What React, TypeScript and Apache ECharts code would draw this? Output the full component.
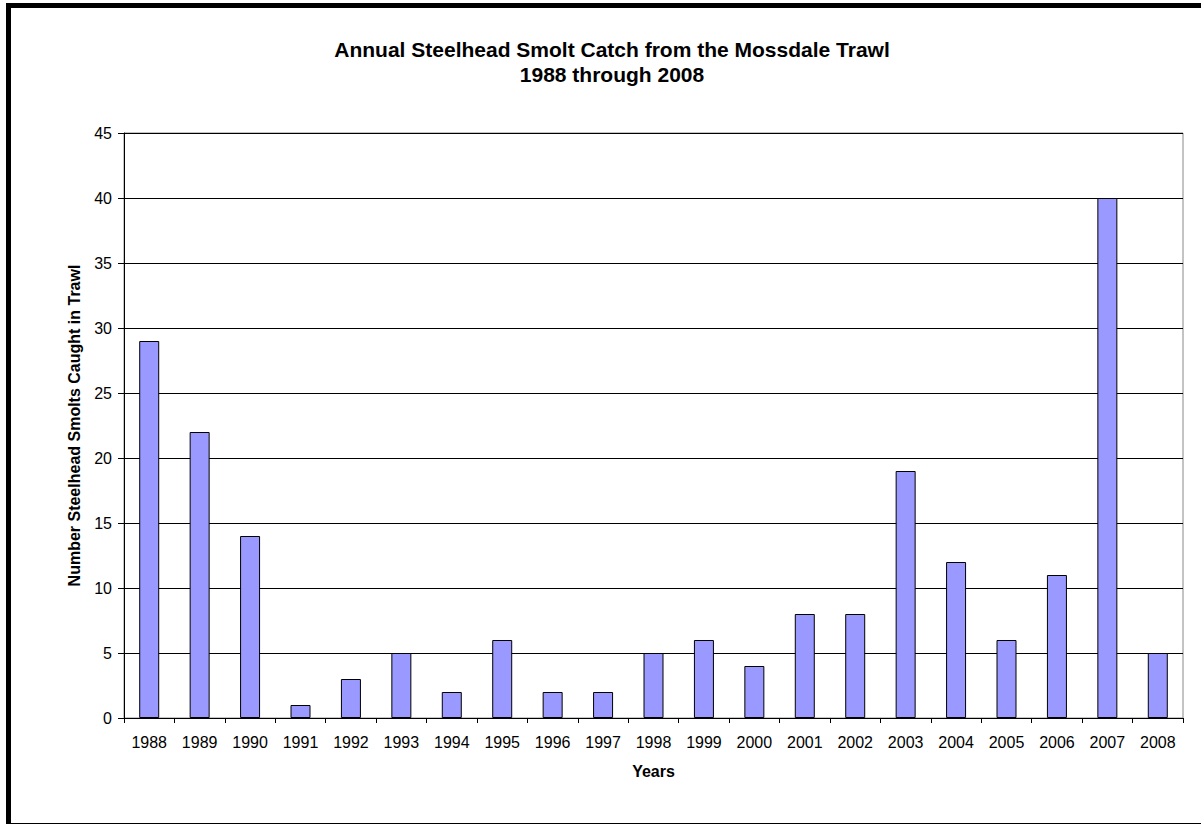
import React, { useEffect, useRef } from "react";
import * as echarts from "echarts";

const years = ["1988","1989","1990","1991","1992","1993","1994","1995","1996","1997","1998","1999","2000","2001","2002","2003","2004","2005","2006","2007","2008"];
const catches = [29, 22, 14, 1, 3, 5, 2, 6, 2, 2, 5, 6, 4, 8, 8, 19, 12, 6, 11, 40, 5];
const titleLines = ["Annual Steelhead Smolt Catch from the Mossdale Trawl", "1988 through 2008"];
const yAxisName = "Number Steelhead Smolts Caught in Trawl";
const xAxisName = "Years";

export default function App() {
  const ref = useRef<HTMLDivElement>(null);
  useEffect(() => {
    document.body.style.margin = "0";
    const chart = echarts.init(ref.current!, null, { renderer: "svg" });
    const font = "Arial, 'Liberation Sans', sans-serif";
    chart.setOption({
      animation: false,
      backgroundColor: "#fff",
      title: {
        text: titleLines.join("\n"),
        left: 607,
        textAlign: "center",
        top: 32,
        textStyle: { fontFamily: font, fontSize: 21, fontWeight: "bold", color: "#000", lineHeight: 25 },
      },
      graphic: [
        { type: "rect", shape: { x: 6, y: 3, width: 1195, height: 5 }, style: { fill: "#000" } },
        { type: "rect", shape: { x: 6, y: 3, width: 5, height: 821 }, style: { fill: "#000" } },
        { type: "rect", shape: { x: 6, y: 823, width: 1195, height: 1 }, style: { fill: "#000" } },
      ],
      grid: { left: 124, top: 133, right: 18, bottom: 107, show: true, borderColor: "#888", borderWidth: 1 },
      xAxis: {
        type: "category",
        data: years,
        boundaryGap: true,
        name: xAxisName,
        nameLocation: "middle",
        nameGap: 45,
        nameTextStyle: { fontFamily: font, fontSize: 16, fontWeight: "bold", color: "#000" },
        axisLine: { lineStyle: { color: "#000", width: 1 } },
        axisTick: { show: true, alignWithLabel: false, length: 5, lineStyle: { color: "#000" } },
        axisLabel: { fontFamily: font, fontSize: 16, color: "#000", margin: 16, interval: 0 },
      },
      yAxis: {
        type: "value",
        min: 0,
        max: 45,
        interval: 5,
        name: yAxisName,
        nameLocation: "middle",
        nameGap: 42,
        nameTextStyle: { fontFamily: font, fontSize: 16, fontWeight: "bold", color: "#000" },
        axisLine: { show: true, lineStyle: { color: "#000", width: 1 } },
        axisTick: { show: true, length: 6, lineStyle: { color: "#000" } },
        axisLabel: { fontFamily: font, fontSize: 16, color: "#000", margin: 12 },
        splitLine: { show: true, lineStyle: { color: "#000", width: 1 } },
      },
      series: [
        {
          type: "bar",
          data: catches,
          barWidth: 20,
          itemStyle: { color: "#9999FF", borderColor: "#000", borderWidth: 1 },
        },
      ],
    });
    return () => chart.dispose();
  }, []);
  return <div ref={ref} style={{ width: 1201, height: 825 }} />;
}
